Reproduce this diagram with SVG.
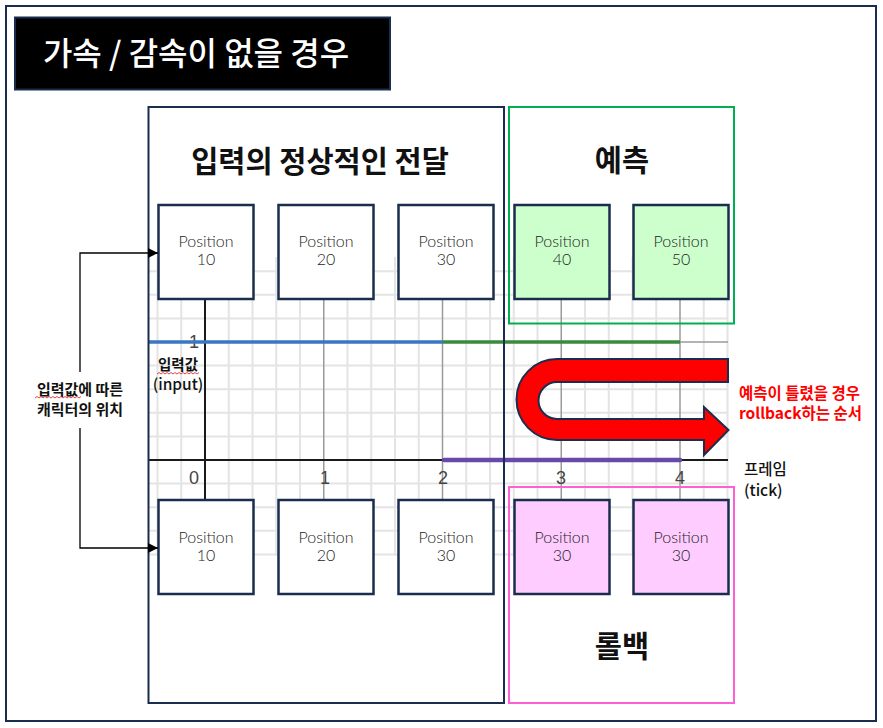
<svg xmlns="http://www.w3.org/2000/svg" width="883" height="728" viewBox="0 0 883 728">
<defs>
<style>
.frame{fill:none;stroke:#1b2d4f;stroke-width:2}
.panel{fill:none;stroke-width:2}
.box{stroke:#1b2d4f;stroke-width:2.5}
.ko{font-family:"Noto Sans CJK KR","Noto Sans",sans-serif}
.ptxt{font-family:Lato,"Noto Sans",sans-serif;font-weight:300;font-size:16px;fill:#1e1e1e;text-anchor:middle}
.ptitle{font-family:"Noto Sans CJK KR",sans-serif;font-weight:700;font-size:29.5px;fill:#111;text-anchor:middle}
.tick{font-family:"Liberation Sans",Arial,sans-serif;font-size:18px;fill:#444;text-anchor:middle}
.minor{stroke:#e4e4e4;stroke-width:2;fill:none}
.major{stroke:#9a9a9a;stroke-width:1.5;fill:none}
.conn{stroke:#000;stroke-width:1.3;fill:none}
.wavy{stroke:#e03030;stroke-width:0.9;fill:none}
</style>
<marker id="arr" viewBox="0 0 10 10" refX="10" refY="5" markerWidth="10" markerHeight="10" markerUnits="userSpaceOnUse" orient="auto">
<path d="M0,0 L10,5 L0,10 Z" fill="#000"/>
</marker>
</defs>
<rect width="883" height="728" fill="#fff"/>
<rect class="frame" x="6" y="6" width="870" height="715"/>

<g id="title">
<rect x="15" y="17.5" width="375" height="72" fill="#000" stroke="#1b2d4f" stroke-width="2"/>
<text x="196" y="65" class="ko" font-size="32" font-weight="500" fill="#fff" text-anchor="middle">가속 / 감속이 없을 경우</text>
</g>

<g id="grid">
<path class="minor" d="M157.5,257V556M181.25,257V556M228.75,257V556M252.5,257V556M276.25,257V556M300,257V556M347.5,257V556M371.25,257V556M395,257V556M418.75,257V556M466.25,257V556M490,257V556M513.75,257V556M537.5,257V556M585,257V556M608.75,257V556M632.5,257V556M656.25,257V556M703.75,257V556M727.5,257V556M148,271.2H728M148,294.8H728M148,318.4H728M148,365.6H728M148,389.2H728M148,412.8H728M148,436.4H728M148,483.6H728M148,507.2H728M148,530.8H728M148,554.4H728"/>
<path class="major" d="M323.75,257V556M442.5,257V556M561.25,257V556M680,257V556M148,342H728"/>
<path d="M205,257V556M148,460H728" stroke="#1a1a1a" stroke-width="2" fill="none"/>
<text class="tick" x="194" y="348">1</text>
<path d="M148,342H443" stroke="#3b76c2" stroke-width="3.5" fill="none"/>
<path d="M443,342H680" stroke="#3b8a3e" stroke-width="3.5" fill="none"/>
<path d="M444,460H680" stroke="#6649a8" stroke-width="4.5" stroke-linecap="round" fill="none"/>
<text class="tick" x="194" y="484">0</text>
<text class="tick" x="325" y="484">1</text>
<text class="tick" x="443" y="484">2</text>
<text class="tick" x="561" y="484">3</text>
<text class="tick" x="680" y="484">4</text>
<text class="ko" x="178" y="370" font-size="14.5" font-weight="700" fill="#111" text-anchor="middle">입력값</text>
<path class="wavy" d="M157,374 l2,-1.5 l2,1.5 l2,-1.5 l2,1.5 l2,-1.5 l2,1.5 l2,-1.5 l2,1.5 l2,-1.5 l2,1.5 l2,-1.5 l2,1.5 l2,-1.5 l2,1.5 l2,-1.5 l2,1.5 l2,-1.5 l2,1.5 l2,-1.5 l2,1.5 l2,-1.5"/>
<text class="ko" x="178" y="390" font-size="15.5" font-weight="500" fill="#111" text-anchor="middle">(input)</text>
<text class="ko" x="744" y="475" font-size="15.5" font-weight="500" fill="#111">프레임</text>
<text class="ko" x="744" y="496" font-size="15.5" font-weight="500" fill="#111">(tick)</text>
</g>

<g id="panel-normal">
<rect class="panel" x="148.5" y="107" width="355.5" height="596" stroke="#1b2d4f"/>
<text class="ptitle" x="320" y="172">입력의 정상적인 전달</text>
</g>
<g id="panel-predict">
<rect class="panel" x="509" y="107" width="225" height="216.5" stroke="#00b050"/>
<text class="ptitle" x="622" y="171">예측</text>
</g>
<g id="panel-rollback">
<rect class="panel" x="509" y="487" width="225" height="216" stroke="#ff5fd5"/>
<text class="ptitle" x="622" y="657">롤백</text>
</g>

<g id="n-top-10"><rect class="box" x="158.5" y="205" width="95" height="94" fill="#fff"/><text class="ptxt" x="206" y="247">Position</text><text class="ptxt" x="206" y="265">10</text></g>
<g id="n-top-20"><rect class="box" x="278.5" y="205" width="95" height="94" fill="#fff"/><text class="ptxt" x="326" y="247">Position</text><text class="ptxt" x="326" y="265">20</text></g>
<g id="n-top-30"><rect class="box" x="398.5" y="205" width="95" height="94" fill="#fff"/><text class="ptxt" x="446" y="247">Position</text><text class="ptxt" x="446" y="265">30</text></g>
<g id="n-top-40"><rect class="box" x="514.5" y="205" width="95" height="94" fill="#ccffcc"/><text class="ptxt" x="562" y="247">Position</text><text class="ptxt" x="562" y="265">40</text></g>
<g id="n-top-50"><rect class="box" x="633.5" y="205" width="95" height="94" fill="#ccffcc"/><text class="ptxt" x="681" y="247">Position</text><text class="ptxt" x="681" y="265">50</text></g>

<g id="n-bot-10"><rect class="box" x="158.5" y="500" width="95" height="94" fill="#fff"/><text class="ptxt" x="206" y="543">Position</text><text class="ptxt" x="206" y="561">10</text></g>
<g id="n-bot-20"><rect class="box" x="278.5" y="500" width="95" height="94" fill="#fff"/><text class="ptxt" x="326" y="543">Position</text><text class="ptxt" x="326" y="561">20</text></g>
<g id="n-bot-30"><rect class="box" x="398.5" y="500" width="95" height="94" fill="#fff"/><text class="ptxt" x="446" y="543">Position</text><text class="ptxt" x="446" y="561">30</text></g>
<g id="n-bot-30b"><rect class="box" x="514.5" y="500" width="95" height="94" fill="#ffccff"/><text class="ptxt" x="562" y="543">Position</text><text class="ptxt" x="562" y="561">30</text></g>
<g id="n-bot-30c"><rect class="box" x="633.5" y="500" width="95" height="94" fill="#ffccff"/><text class="ptxt" x="681" y="543">Position</text><text class="ptxt" x="681" y="561">30</text></g>

<g id="rollback-arrow">
<path d="M728,359 L557,359 A40.5,40.5 0 0 0 557,440 L704,440 L704,455 L728.5,430 L704,407 L704,419 L557,419 A18.5,18.5 0 0 1 557,382 L728,382 Z" fill="#ff0000" stroke="#1b2d4f" stroke-width="2" stroke-linejoin="miter"/>
<text class="ko" x="739" y="399" font-size="15.5" font-weight="700" fill="#ff0000">예측이 틀렸을 경우</text>
<text class="ko" x="739" y="419" font-size="15.5" font-weight="700" fill="#ff0000">rollback하는 순서</text>
</g>

<g id="connectors">
<path class="conn" d="M80,372 V253 H158" marker-end="url(#arr)"/>
<path class="conn" d="M80,428 V548 H158" marker-end="url(#arr)"/>
<text class="ko" x="80" y="395" font-size="15" font-weight="700" fill="#111" text-anchor="middle">입력값에 따른</text>
<path class="wavy" d="M35,398 l2,-1.5 l2,1.5 l2,-1.5 l2,1.5 l2,-1.5 l2,1.5 l2,-1.5 l2,1.5 l2,-1.5 l2,1.5 l2,-1.5 l2,1.5 l2,-1.5 l2,1.5 l2,-1.5 l2,1.5 l2,-1.5 l2,1.5 l2,-1.5 l2,1.5 l2,-1.5 l2,1.5 l2,-1.5"/>
<text class="ko" x="80" y="415" font-size="15" font-weight="700" fill="#111" text-anchor="middle">캐릭터의 위치</text>
</g>
</svg>
